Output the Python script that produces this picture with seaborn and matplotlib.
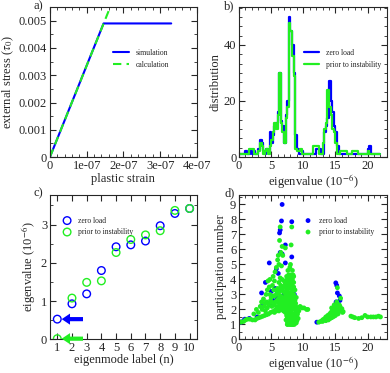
import numpy as np
import matplotlib
matplotlib.use('Agg')
import matplotlib.pyplot as plt
from matplotlib.ticker import MultipleLocator, AutoMinorLocator, FuncFormatter
import seaborn as sns

# ---- panel a: stress vs plastic strain ----
sim_strain = [0.0, 1.46e-07, 3.3e-07]
sim_stress = [0.0, 0.0049, 0.0049]
calc_strain = [0.0, 1.64e-07]
calc_stress = [0.0, 0.0055]

# ---- panel b: eigenvalue distribution (bin width 0.25) ----
bin_width = 0.25
hist_zero = [1, 1, 1, 1, 2, 1, 1, 2, 1, 2, 1, 1, 3, 6, 5, 2,
             1, 3, 2, 9, 5, 8, 11, 12, 16, 30, 13, 11, 5, 15, 20, 50,
             45, 40, 30, 8, 3, 1, 1, 2, 1, 1, 1, 1, 1, 1, 1, 1,
             3, 3, 3, 1, 1, 9, 11, 14, 27, 20, 16, 11, 9, 4, 1, 1,
             1, 1, 1, 1, 1, 1, 1, 1, 1, 1, 1, 1, 1, 1, 1, 1,
             3, 4, 1, 1, 1, 1, 1, 1]
hist_prior = [1, 1, 1, 1, 1, 1, 3, 3, 3, 1, 1, 1, 2, 5, 4, 1,
              2, 3, 1, 4, 6, 9, 12, 10, 15, 30, 12, 9, 5, 14, 18, 48,
              45, 36, 29, 3, 2, 2, 3, 1, 1, 1, 1, 1, 1, 1, 4, 4,
              4, 4, 1, 1, 5, 10, 12, 24, 18, 15, 10, 9, 5, 1, 1, 2,
              2, 2, 2, 1, 1, 1, 2, 2, 2, 2, 1, 1, 1, 1, 1, 1,
              2, 1, 1, 1, 1, 1, 1, 1]

# ---- panel c: lowest eigenvalues ----
mode_n = [1, 2, 3, 4, 5, 6, 7, 8, 9, 10]
eig_zero = [0.53, 0.93, 1.19, 1.80, 2.42, 2.47, 2.57, 2.97, 3.29, 3.42]
eig_prior = [0.02, 1.08, 1.49, 1.53, 2.27, 2.61, 2.73, 2.84, 3.37, 3.42]

# ---- panel d: participation number ----
pn_zero_x = [0.3, 0.7, 0.9, 1.6, 2.8, 3.5, 3.5, 4.1, 4.7, 4.8, 5.0, 5.6, 5.8,
             5.9, 6.1, 6.3, 6.4, 6.4, 6.6, 6.7, 6.7, 7.2, 7.2, 7.7, 8.2, 8.2,
             12.1, 15.05, 15.2, 15.3, 15.1, 15.6, 15.7, 5.3, 6.0, 7.0, 7.5,
             8.3, 8.6]
pn_zero_y = [1.15, 1.25, 1.35, 1.4, 1.5, 3.1, 2.2, 3.8, 5.1, 2.3, 3.2, 3.4, 4.7,
             2.8, 4.4, 7.1, 7.3, 5.8, 7.9, 9.0, 5.7, 6.3, 5.1, 2.7, 7.85, 5.5,
             1.15, 3.77, 3.6, 3.1, 2.5, 2.9, 2.6, 2.6, 3.1, 3.0, 3.5,
             2.5, 3.0]

pn_prior_x = [
    # low tail
    0.0, 0.3, 0.7, 1.0, 1.3, 1.7, 2.1, 2.5, 2.8, 3.1, 3.4, 3.7, 4.0, 4.3,
    4.6, 4.9, 5.2, 5.5,
    # rising branch
    2.3, 2.7, 3.0, 3.3, 3.5, 3.8, 4.0, 4.2, 4.4, 4.5, 4.7, 4.8, 5.0, 5.2,
    5.3, 5.5, 5.6, 5.8, 6.0, 6.1, 6.2, 6.3, 6.4, 6.5, 6.6, 6.7, 6.8,
    # main blob
    5.6, 5.8, 5.9, 6.0, 6.1, 6.2, 6.3, 6.3, 6.4, 6.5, 6.5, 6.6, 6.7, 6.7,
    6.8, 6.9, 7.0, 7.0, 7.1, 7.2, 7.2, 7.3, 7.4, 7.4, 7.5, 7.6, 7.6, 7.7,
    7.8, 7.8, 7.9, 8.0, 8.0, 8.1, 8.2, 8.2, 8.3, 8.4, 8.5, 8.6,
    5.7, 6.0, 6.2, 6.4, 6.6, 6.8, 7.0, 7.1, 7.3, 7.5, 7.7, 7.9, 8.1, 8.3,
    8.5, 8.7, 8.9, 6.9, 7.2, 7.6, 8.0, 8.4, 8.8,
    5.4, 5.5, 5.7, 5.9, 6.1, 6.3, 6.5, 6.7, 6.9, 7.1, 7.3, 7.5, 7.7, 7.9,
    8.1, 8.3, 8.5, 8.7,
    5.5, 5.8, 6.0, 6.2, 6.4, 6.6, 6.8, 7.0, 7.2, 7.4, 7.6, 7.8, 8.0, 8.2,
    8.4, 8.6, 8.8, 9.0,
    7.5, 7.7, 7.9, 8.1, 8.3, 8.5, 7.8, 8.2, 8.4, 7.6, 8.0,
    3.6, 3.9, 4.1, 4.3, 4.6, 4.9, 5.1, 5.3, 4.4, 4.8, 5.0, 5.4,
    # lower cluster
    7.4, 7.5, 7.6, 7.7, 7.8, 7.9, 8.0, 8.1, 8.2, 8.3, 8.4, 8.5, 8.6, 8.7,
    8.8, 7.6, 7.8, 8.0, 8.2, 8.4, 8.6, 8.8, 9.0, 7.7, 8.1, 8.5, 8.9,
    7.3, 7.5, 7.7, 7.9, 8.1, 8.3, 8.5, 8.7, 8.9, 7.4, 7.6, 7.8, 8.0, 8.2,
    8.4, 8.6, 8.8, 9.1, 9.2,
    7.6, 7.8, 8.0, 8.2, 8.4, 8.6, 8.7, 7.9, 8.3, 8.5, 8.1, 7.5, 7.7, 8.9, 9.0,
    # upper outliers and shoulder
    8.2, 8.1, 7.2, 8.0, 8.3, 7.6, 8.5, 7.9,
    8.9, 9.2, 9.5, 9.8, 10.1, 10.5, 10.7, 9.0, 9.3,
    # second band
    12.4, 12.7, 13.0, 13.2, 13.4, 13.5, 13.7, 13.8, 14.0, 14.1, 14.2, 14.3,
    14.4, 14.5, 14.6, 14.7, 14.8, 14.9, 15.0, 15.1, 15.2, 15.3, 15.4, 15.5,
    15.6, 15.7, 15.8, 16.0, 16.2, 13.9, 14.2, 14.6, 15.0, 15.4, 14.4, 14.8,
    15.2, 15.3, 15.8,
    13.0, 13.3, 13.6, 13.9, 14.1, 14.3, 14.5, 14.7, 14.9, 15.1, 15.3, 15.5,
    15.7, 13.5, 13.8, 14.0, 14.4, 14.6, 14.8, 15.0, 15.2, 15.4, 15.6, 16.0,
    16.1,
    # far tail
    17.4, 17.7, 18.0, 18.6, 19.1, 19.6, 20.0, 20.5, 20.9, 21.3, 21.7, 22.0]
pn_prior_y = [
    1.2, 1.15, 1.2, 1.3, 1.35, 1.35, 1.3, 1.3, 1.4, 1.45, 1.5, 1.55, 1.6, 1.65,
    1.7, 1.8, 1.85, 1.9,
    1.7, 2.0, 1.8, 2.2, 2.5, 2.7, 2.4, 3.0, 3.3, 3.9, 3.5, 4.0, 2.8, 3.6,
    4.2, 3.9, 4.5, 4.8, 5.3, 5.6, 5.0, 6.6, 7.5, 5.8, 4.9, 6.2, 5.6,
    2.5, 3.0, 2.2, 3.4, 2.7, 3.8, 2.4, 3.2, 4.1, 2.9, 3.6, 2.3, 3.3, 4.0,
    2.8, 3.5, 2.6, 3.9, 3.1, 2.4, 3.7, 2.9, 3.3, 4.2, 2.7, 3.0, 3.8, 2.5,
    3.4, 4.0, 2.8, 3.6, 4.3, 3.1, 2.6, 3.9, 3.3, 2.9, 3.5, 2.7,
    2.0, 2.1, 1.9, 2.2, 2.0, 2.3, 2.1, 1.9, 2.2, 2.0, 2.2, 2.3, 2.1, 2.4,
    2.2, 2.6, 2.8, 1.9, 1.8, 1.9, 1.9, 2.0, 2.2,
    2.3, 2.9, 3.3, 2.6, 3.1, 2.8, 3.4, 2.5, 3.2, 2.7, 3.5, 3.2, 2.9, 3.1,
    3.6, 2.8, 3.0, 3.3,
    1.8, 1.9, 2.5, 2.1, 2.6, 2.8, 2.4, 2.3, 2.6, 2.5, 2.3, 2.7, 2.4, 2.2,
    2.5, 2.3, 2.4, 2.1,
    4.0, 4.3, 3.9, 4.1, 4.0, 3.8, 3.6, 3.7, 4.3, 3.4, 3.9,
    2.0, 2.2, 1.9, 2.5, 2.3, 2.6, 2.2, 2.9, 2.1, 3.0, 2.5, 3.3,
    1.6, 1.2, 1.4, 1.1, 1.3, 1.0, 1.5, 1.2, 1.1, 1.4, 1.0, 1.3, 1.2, 1.1,
    1.5, 1.7, 1.6, 1.8, 1.7, 1.6, 1.7, 1.8, 1.6, 1.05, 1.05, 1.1, 1.3,
    1.3, 1.5, 1.6, 1.2, 1.4, 1.5, 1.6, 1.4, 1.5, 1.9, 1.2, 1.4, 1.2, 1.3,
    1.2, 1.5, 1.3, 1.7, 1.4,
    1.0, 1.1, 1.0, 1.0, 1.1, 1.0, 1.2, 1.3, 1.0, 1.2, 1.6, 1.0, 1.35, 1.1, 1.25,
    7.5, 6.3, 6.1, 5.0, 4.6, 4.6, 4.2, 4.8,
    2.0, 2.1, 2.2, 2.1, 2.1, 2.0, 2.0, 1.9, 1.9,
    1.15, 1.2, 1.3, 1.35, 1.4, 1.5, 1.45, 1.6, 1.55, 1.7, 1.6, 1.8,
    1.75, 1.9, 1.85, 2.0, 1.95, 2.1, 2.0, 2.2, 2.1, 2.3, 2.2, 2.1,
    2.0, 1.95, 1.9, 1.9, 1.85, 1.3, 1.4, 1.5, 1.6, 1.7, 2.1, 2.3,
    2.5, 3.45, 2.75,
    1.2, 1.3, 1.35, 1.45, 1.5, 1.55, 1.6, 1.7, 1.75, 1.8, 1.9, 2.0,
    2.2, 1.25, 1.35, 1.4, 1.45, 1.65, 1.55, 1.7, 1.9, 2.0, 2.3, 2.05,
    1.8,
    1.55, 1.5, 1.45, 1.4, 1.45, 1.6, 1.5, 1.5, 1.5, 1.5, 1.55, 1.5]

BLUE = '#0000ff'
GREEN = '#22ee22'

sns.set_style('ticks')
plt.rcParams['font.family'] = ['Liberation Serif', 'DejaVu Serif']
plt.rcParams['mathtext.fontset'] = 'stix'
plt.rcParams['xtick.major.size'] = 4
plt.rcParams['ytick.major.size'] = 4
plt.rcParams['xtick.minor.size'] = 2
plt.rcParams['ytick.minor.size'] = 2
plt.rcParams['axes.linewidth'] = 0.8
plt.rcParams['font.size'] = 9

fig = plt.figure(figsize=(3.9, 3.73), dpi=100)
ax_a = fig.add_axes([0.128, 0.579, 0.377, 0.402])
ax_b = fig.add_axes([0.613, 0.579, 0.379, 0.402])
ax_c = fig.add_axes([0.128, 0.090, 0.377, 0.388])
ax_d = fig.add_axes([0.613, 0.090, 0.379, 0.388])

leg_kw = dict(frameon=False, fontsize=5.5, borderaxespad=0,
              labelspacing=0.45, handletextpad=0.9)

# panel a
sns.lineplot(x=sim_strain, y=sim_stress, ax=ax_a, color=BLUE, lw=1.5,
             label='simulation')
sns.lineplot(x=calc_strain, y=calc_stress, ax=ax_a, color=GREEN, lw=1.5,
             ls=(0, (4, 2.5)), label='calculation')
ax_a.set_xlim(0, 4e-07)
ax_a.set_ylim(0, 0.0055)
ax_a.xaxis.set_major_locator(MultipleLocator(1e-07))
ax_a.xaxis.set_minor_locator(AutoMinorLocator(5))
ax_a.yaxis.set_major_locator(MultipleLocator(0.001))
ax_a.yaxis.set_minor_locator(AutoMinorLocator(2))
ax_a.xaxis.set_major_formatter(FuncFormatter(
    lambda t, p: '0' if abs(t) < 1e-12 else f'{t:.0e}'))
ax_a.yaxis.set_major_formatter(FuncFormatter(
    lambda t, p: '0' if abs(t) < 1e-9 else f'{t:.3f}'))
ax_a.set_xlabel('plastic strain', labelpad=1)
ax_a.set_ylabel(r'external stress ($\tau_0$)', labelpad=2)
ax_a.legend(loc='upper left', bbox_to_anchor=(0.41, 0.74), handlelength=2.0,
            **leg_kw)

# panel b
edges = [i * bin_width for i in range(len(hist_zero) + 1)]
centers = [e + bin_width / 2 for e in edges[:-1]]
sns.histplot(x=centers, weights=hist_zero, bins=edges, element='step',
             fill=False, color=BLUE, lw=1.6, ax=ax_b, label='zero load')
sns.histplot(x=centers, weights=hist_prior, bins=edges, element='step',
             fill=False, color=GREEN, lw=1.6, ax=ax_b,
             label='prior to instability')
ax_b.set_xlim(0, 23)
ax_b.set_ylim(0, 53.5)
ax_b.xaxis.set_major_locator(MultipleLocator(5))
ax_b.xaxis.set_minor_locator(AutoMinorLocator(5))
ax_b.yaxis.set_major_locator(MultipleLocator(20))
ax_b.yaxis.set_minor_locator(AutoMinorLocator(6))
ax_b.set_xlabel(r'eigenvalue (10$^{-6}$)', labelpad=0)
ax_b.set_ylabel('distribution', labelpad=2)
ax_b.legend(loc='upper left', bbox_to_anchor=(0.42, 0.74), handlelength=2.0,
            **leg_kw)

# panel c
sns.scatterplot(x=mode_n, y=eig_zero, ax=ax_c, marker='o', s=30,
                facecolor='none', edgecolor=BLUE, linewidth=1.0,
                label='zero load')
sns.scatterplot(x=mode_n, y=eig_prior, ax=ax_c, marker='o', s=30,
                facecolor='none', edgecolor=GREEN, linewidth=1.0,
                label='prior to instability')
for val, col in [(eig_zero[0], BLUE), (eig_prior[0], GREEN)]:
    ax_c.annotate('', xy=(1.3, val), xytext=(2.75, val),
                  arrowprops=dict(facecolor=col, edgecolor='none', width=3,
                                  headwidth=8, headlength=6, shrink=0))
ax_c.set_xlim(0.5, 10.5)
ax_c.set_ylim(0, 3.78)
ax_c.xaxis.set_major_locator(MultipleLocator(1))
ax_c.yaxis.set_major_locator(MultipleLocator(1))
ax_c.yaxis.set_minor_locator(AutoMinorLocator(2))
ax_c.set_xlabel('eigenmode label (n)', labelpad=0)
ax_c.set_ylabel(r'eigenvalue (10$^{-6}$)', labelpad=2)
ax_c.legend(loc='upper left', bbox_to_anchor=(0.07, 0.87), handlelength=1.0,
            **leg_kw)

# panel d
sns.scatterplot(x=pn_zero_x, y=pn_zero_y, ax=ax_d, color=BLUE, s=12,
                edgecolor='none', label='zero load')
sns.scatterplot(x=pn_prior_x, y=pn_prior_y, ax=ax_d, color=GREEN, s=12,
                edgecolor='none', label='prior to instability')
ax_d.set_xlim(0, 23)
ax_d.set_ylim(0, 9.65)
ax_d.xaxis.set_major_locator(MultipleLocator(5))
ax_d.xaxis.set_minor_locator(AutoMinorLocator(5))
ax_d.yaxis.set_major_locator(MultipleLocator(1))
ax_d.yaxis.set_minor_locator(AutoMinorLocator(2))
ax_d.set_xlabel(r'eigenvalue (10$^{-6}$)', labelpad=0)
ax_d.set_ylabel('participation number', labelpad=2)
ax_d.legend(loc='upper left', bbox_to_anchor=(0.42, 0.87), handlelength=1.0,
            **leg_kw)

for ax in (ax_a, ax_b, ax_c, ax_d):
    ax.tick_params(labelsize=9, pad=2)
    ax.tick_params(which='both', direction='in', top=True, right=True)

fig.text(0.085, 0.975, 'a)', fontsize=9)
fig.text(0.575, 0.975, 'b)', fontsize=9)
fig.text(0.085, 0.475, 'c)', fontsize=9)
fig.text(0.575, 0.475, 'd)', fontsize=9)

fig.savefig('out.png', dpi=100)
